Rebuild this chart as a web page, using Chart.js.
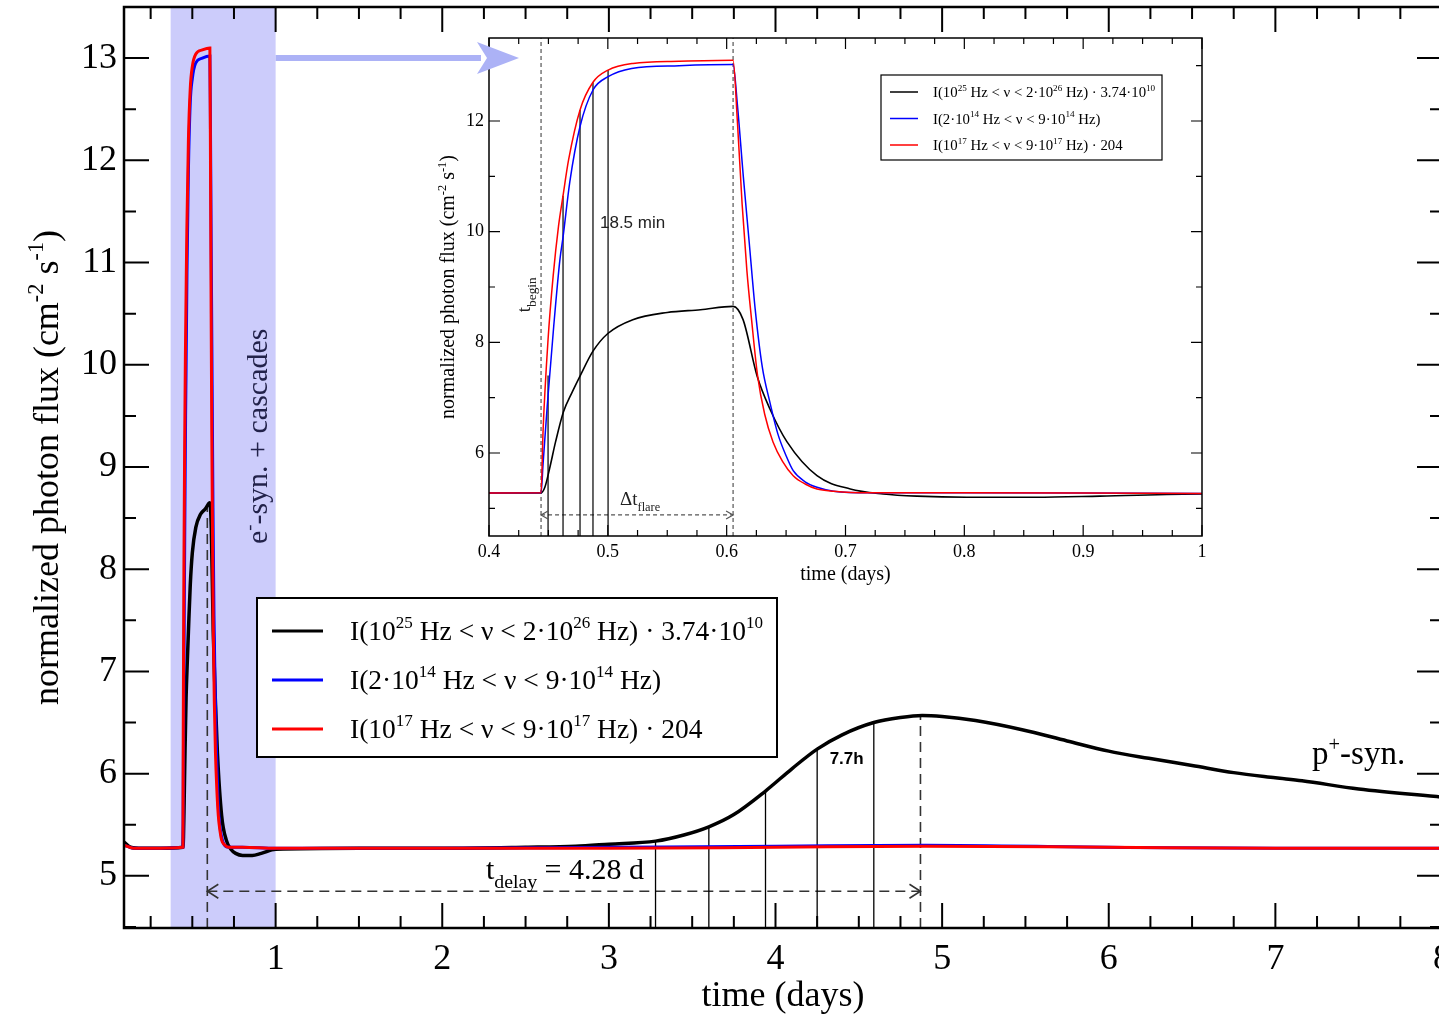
<!DOCTYPE html>
<html>
<head>
<meta charset="utf-8">
<title>flare light curves</title>
<script src="https://cdn.jsdelivr.net/npm/chart.js@4.4.1/dist/chart.umd.min.js"></script>
<style>
html, body { margin: 0; padding: 0; background: #fff; overflow: hidden; }
#page { position: relative; width: 1439px; height: 1015px; overflow: hidden; }
canvas { position: absolute; top: 0; }
#graphMain { left: 0; }
#graphInset { left: 260px; }
</style>
</head>
<body>
<div id="page">
  <canvas id="graphMain" width="1470" height="1015"></canvas>
  <canvas id="graphInset" width="970" height="600"></canvas>
</div>
<script>
// DATA  (time in days, normalized photon flux)

// black : I(10^25 Hz < nu < 2 10^26 Hz) * 3.74 10^10
const gammaT = [0.09, 0.13, 0.2, 0.3, 0.4438, 0.447, 0.451, 0.456, 0.4626, 0.47, 0.4766, 0.4875, 0.5, 0.521, 0.55, 0.578, 0.6054,
  0.6138, 0.6256, 0.6365, 0.6508, 0.676, 0.704, 0.7317, 0.76, 0.802, 0.86, 0.914, 1.0, 1.5, 2, 2.5, 2.8, 3.0, 3.28,
  3.45, 3.6, 3.75, 3.94, 4.1, 4.25, 4.4, 4.59, 4.75, 4.88, 5.0, 5.2, 5.48, 5.75, 6.0, 6.24, 6.5, 6.75, 7.0, 7.16, 7.5, 8.0]
const gammaF = [5.33, 5.28, 5.27, 5.27, 5.28, 5.38, 5.72, 6.2, 6.74, 7.1, 7.39, 7.84, 8.16, 8.41, 8.54, 8.59, 8.65,
  8.41, 7.39, 6.79, 6.2, 5.59, 5.35, 5.26, 5.22, 5.2, 5.2, 5.22, 5.26, 5.27, 5.27, 5.28, 5.29, 5.31, 5.34,
  5.4, 5.48, 5.6, 5.83, 6.05, 6.24, 6.38, 6.5, 6.55, 6.57, 6.56, 6.52, 6.43, 6.32, 6.22, 6.15, 6.08, 6.01, 5.96, 5.93, 5.85, 5.77]

// blue : I(2 10^14 Hz < nu < 9 10^14 Hz)
const optT = [0.09, 0.15, 0.25, 0.4438, 0.4455, 0.449, 0.4545, 0.4597, 0.4623, 0.468, 0.4766, 0.4875, 0.5002, 0.52, 0.56,
  0.6054, 0.609, 0.614, 0.619, 0.624, 0.63, 0.636, 0.643, 0.65, 0.656, 0.666, 0.676, 0.69, 0.72, 0.8, 1.0, 2, 3, 4, 4.9, 6, 7, 8]
const optF = [5.3, 5.27, 5.27, 5.28, 5.8, 6.85, 8.3, 9.5, 9.9, 10.9, 11.9, 12.56, 12.8, 12.95, 13.0,
  13.02, 12.3, 11.0, 9.8, 8.6, 7.55, 6.95, 6.35, 5.95, 5.68, 5.48, 5.38, 5.31, 5.28, 5.28, 5.27, 5.27, 5.28, 5.29, 5.3, 5.28, 5.27, 5.27]

// red : I(10^17 Hz < nu < 9 10^17 Hz) * 204
const xrayT = [0.09, 0.15, 0.25, 0.4438, 0.4455, 0.4497, 0.454, 0.4585, 0.4623, 0.467, 0.4766, 0.4875, 0.5002, 0.5212, 0.56,
  0.6054, 0.609, 0.613, 0.617, 0.621, 0.626, 0.632, 0.639, 0.647, 0.656, 0.666, 0.676, 0.69, 0.718, 0.8, 1.0, 2, 3, 4, 4.9, 6, 7, 8]
const xrayF = [5.3, 5.27, 5.27, 5.28, 6.4, 8.05, 9.2, 10.1, 10.65, 11.3, 12.2, 12.7, 12.92, 13.04, 13.08,
  13.1, 12.0, 10.5, 9.3, 8.4, 7.4, 6.7, 6.2, 5.85, 5.59, 5.44, 5.35, 5.31, 5.28, 5.28, 5.27, 5.27, 5.27, 5.28, 5.29, 5.28, 5.27, 5.27]

// guides of the big panel
const mainMarkT = [3.28, 3.6, 3.94, 4.25, 4.59]
const mainMarkF = [5.34, 5.48, 5.83, 6.24, 6.5]
const delayT = [0.59, 4.87]
const delayTop = [8.62, 6.57]
const delayLevel = 4.85
const bandT = [0.37, 1.0]

// guides of the inset
const insetMarkT = [0.4497, 0.4623, 0.4766, 0.4875, 0.5002]
const insetMarkF = [7.4, 10.65, 12.2, 12.7, 12.92]
const flareT = [0.4438, 0.6054]
const flareLevel = 4.88

// axes
const mainX = [0.09, 8], mainY = [4.49, 13.5]
const insetX = [0.4, 1], insetY = [4.5, 13.5]

// texts
const fluxTitle = [['normalized photon flux (cm', ''], ['-2', '^'], [' s', ''], ['-1', '^'], [')', '']]
const timeTitle = [['time (days)', '']]
const legendLabels = [
  [['I(10', ''], ['25', '^'], [' Hz < ν < 2·10', ''], ['26', '^'], [' Hz) · 3.74·10', ''], ['10', '^']],
  [['I(2·10', ''], ['14', '^'], [' Hz < ν < 9·10', ''], ['14', '^'], [' Hz)', '']],
  [['I(10', ''], ['17', '^'], [' Hz < ν < 9·10', ''], ['17', '^'], [' Hz) · 204', '']]
]
const seriesColors = ['#000000', '#0000ff', '#ff0000']

const SERIF = '"Liberation Serif", "Times New Roman", serif'
const SANS = '"Liberation Sans", Arial, sans-serif'
const insetOffset = 260

// HELPERS

function curve(t, f, color, width) {
  return { data: t.map((x, i) => ({ x, y: f[i] })), borderColor: color, borderWidth: width,
    pointRadius: 0, fill: false, cubicInterpolationMode: 'monotone' }
}

function sticks(t, top, base, color, width, dash) {
  const data = []
  t.forEach((x, i) => { data.push({ x, y: base }, { x, y: top[i] }, { x, y: null }) })
  return { data, borderColor: color, borderWidth: width, borderDash: dash, pointRadius: 0, fill: false, tension: 0, spanGaps: false }
}

function hline(t, level, color, width, dash) {
  return { data: [{ x: t[0], y: level }, { x: t[1], y: level }], borderColor: color, borderWidth: width,
    borderDash: dash, pointRadius: 0, fill: false, tension: 0 }
}

function richWidth(ctx, parts, size, fam, small, weight) {
  let w = 0
  for (const [s, k] of parts) {
    ctx.font = weight + (k ? size * small : size) + 'px ' + fam
    w += ctx.measureText(s).width
  }
  return w
}

// draws text with ^superscript / _subscript pieces
function rich(ctx, parts, x, y, size, o = {}) {
  const fam = o.fam || SERIF, small = o.small || 0.62, weight = o.weight ? o.weight + ' ' : ''
  if (o.align === 'center') x -= richWidth(ctx, parts, size, fam, small, weight) / 2
  ctx.textAlign = 'left'
  ctx.textBaseline = 'alphabetic'
  for (const [s, k] of parts) {
    const sz = k ? size * small : size
    ctx.font = weight + sz + 'px ' + fam
    const dy = k === '^' ? -size * 0.42 : k === '_' ? size * 0.3 : 0
    ctx.fillText(s, x, y + dy)
    x += ctx.measureText(s).width
  }
}

function chevron(ctx, x, y, dir, len, half) {
  ctx.beginPath()
  ctx.moveTo(x - dir * len, y - half)
  ctx.lineTo(x, y)
  ctx.lineTo(x - dir * len, y + half)
  ctx.stroke()
}

function noPad(s) {
  s.paddingTop = 0
  s.paddingBottom = 0
  s.paddingLeft = 0
  s.paddingRight = 0
}

// inward ticks on the four sides + frame
const frameTicks = {
  id: 'frameTicks',
  afterDatasetsDraw(chart, args, o) {
    const { ctx, chartArea: a } = chart
    const sx = chart.scales.x, sy = chart.scales.y
    const each = (scale, step, major, fn) => {
      const start = Math.ceil(scale.min / step - 1e-9)
      for (let i = start; i * step <= scale.max + 1e-9; i++) {
        const v = i * step, r = v / major
        fn(scale.getPixelForValue(v), Math.abs(r - Math.round(r)) < 1e-6 ? o.majorLen : o.minorLen)
      }
    }
    ctx.save()
    ctx.strokeStyle = '#000'
    ctx.lineWidth = o.tickWidth
    ctx.beginPath()
    each(sx, o.xMinor, o.xMajor, (p, len) => {
      ctx.moveTo(p, a.bottom); ctx.lineTo(p, a.bottom - len)
      ctx.moveTo(p, a.top); ctx.lineTo(p, a.top + len)
    })
    each(sy, o.yMinor, o.yMajor, (p, len) => {
      ctx.moveTo(a.left, p); ctx.lineTo(a.left + len, p)
      ctx.moveTo(a.right, p); ctx.lineTo(a.right - len, p)
    })
    ctx.stroke()
    ctx.lineWidth = o.frameWidth
    ctx.strokeRect(a.left, a.top, a.right - a.left, a.bottom - a.top)
    ctx.restore()
  }
}

// MAIN PANEL

const mainDecor = {
  id: 'mainDecor',
  beforeDatasetsDraw(chart) {
    const { ctx, chartArea: a, scales: { x } } = chart
    const x0 = x.getPixelForValue(bandT[0]), x1 = x.getPixelForValue(bandT[1])
    ctx.save()
    ctx.fillStyle = 'rgb(204,204,251)'
    ctx.fillRect(x0, a.top, x1 - x0, a.bottom - a.top)
    ctx.restore()
  },
  afterDraw(chart) {
    const { ctx, chartArea: a, scales: { x, y } } = chart
    ctx.save()
    ctx.strokeStyle = '#333'
    ctx.lineWidth = 1.6
    const yl = y.getPixelForValue(delayLevel)
    chevron(ctx, x.getPixelForValue(delayT[0]), yl, -1, 11, 7)
    chevron(ctx, x.getPixelForValue(delayT[1]), yl, 1, 11, 7)

    ctx.fillStyle = '#000'
    rich(ctx, [['t', ''], ['delay', '_'], [' = 4.28 d', '']], x.getPixelForValue(2.262), y.getPixelForValue(4.97), 30, { small: 0.66 })
    rich(ctx, [['7.7h', '']], x.getPixelForValue(4.325), y.getPixelForValue(6.09), 17, { fam: SANS, weight: 'bold' })
    rich(ctx, [['p', ''], ['+', '^'], ['-syn.', '']], x.getPixelForValue(7.22), y.getPixelForValue(6.09), 33)

    ctx.save()
    ctx.fillStyle = '#22224a'
    ctx.translate(x.getPixelForValue(0.95), y.getPixelForValue(9.3))
    ctx.rotate(-Math.PI / 2)
    rich(ctx, [['e', ''], ['-', '^'], ['-syn. + cascades', '']], 0, 0, 30, { align: 'center' })
    ctx.restore()

    // legend
    const lx = a.left + 133, ly = 598, lw = 520, lh = 159
    ctx.fillStyle = '#fff'
    ctx.fillRect(lx, ly, lw, lh)
    ctx.strokeStyle = '#000'
    ctx.lineWidth = 2
    ctx.strokeRect(lx, ly, lw, lh)
    legendLabels.forEach((parts, i) => {
      const yy = ly + 33 + i * 49
      ctx.strokeStyle = seriesColors[i]
      ctx.lineWidth = 3
      ctx.beginPath(); ctx.moveTo(lx + 15, yy); ctx.lineTo(lx + 66, yy); ctx.stroke()
      ctx.fillStyle = '#000'
      rich(ctx, parts, lx + 93, yy + 9, 27.5)
    })

    // axis titles
    rich(ctx, timeTitle, (a.left + a.right) / 2, 1006, 36, { align: 'center' })
    ctx.translate(58, (a.top + a.bottom) / 2)
    ctx.rotate(-Math.PI / 2)
    rich(ctx, fluxTitle, 0, 0, 36, { align: 'center' })
    ctx.restore()
  }
}

const mainChart = new Chart(document.getElementById('graphMain'), {
  type: 'line',
  data: {
    datasets: [
      curve(xrayT, xrayF, seriesColors[2], 3),
      curve(optT, optF, seriesColors[1], 3),
      curve(gammaT, gammaF, seriesColors[0], 3.5),
      sticks(mainMarkT, mainMarkF, mainY[0], '#000', 1.3, []),
      sticks(delayT, delayTop, mainY[0], '#333', 1.6, [10, 6]),
      hline(delayT, delayLevel, '#333', 1.6, [10, 6])
    ]
  },
  options: {
    responsive: false,
    animation: false,
    events: [],
    layout: { padding: { top: 7, right: 28, left: 0, bottom: 0 } },
    plugins: {
      legend: { display: false },
      tooltip: { enabled: false },
      frameTicks: { xMinor: 0.25, xMajor: 1, yMinor: 0.5, yMajor: 1, majorLen: 25, minorLen: 12, tickWidth: 2, frameWidth: 2.5 }
    },
    scales: {
      x: {
        type: 'linear', min: mainX[0], max: mainX[1],
        grid: { display: false, drawTicks: false }, border: { display: false },
        ticks: { stepSize: 1, includeBounds: false, autoSkip: false, maxRotation: 0, padding: 10, color: '#000',
          font: { family: SERIF, size: 36 }, callback: v => String(+v.toFixed(2)) },
        afterFit: s => { s.height = 87; noPad(s) }
      },
      y: {
        min: mainY[0], max: mainY[1],
        grid: { display: false, drawTicks: false }, border: { display: false },
        ticks: { stepSize: 1, includeBounds: false, padding: 7, color: '#000',
          font: { family: SERIF, size: 36 }, callback: v => String(+v.toFixed(2)) },
        afterFit: s => { s.width = 124; noPad(s) }
      }
    }
  },
  plugins: [frameTicks, mainDecor]
})

// INSET

const insetDecor = {
  id: 'insetDecor',
  beforeDraw(chart) {
    const { ctx, chartArea: a } = chart
    ctx.save()
    ctx.fillStyle = '#fff'
    ctx.fillRect(a.left, a.top, a.right - a.left, a.bottom - a.top)
    ctx.restore()
  },
  afterDraw(chart) {
    const { ctx, chartArea: a, scales: { x, y } } = chart
    ctx.save()
    ctx.strokeStyle = '#555'
    ctx.lineWidth = 1.2
    const yl = y.getPixelForValue(flareLevel)
    chevron(ctx, x.getPixelForValue(flareT[0]), yl, -1, 7, 4)
    chevron(ctx, x.getPixelForValue(flareT[1]), yl, 1, 7, 4)

    ctx.fillStyle = '#222'
    rich(ctx, [['18.5 min', '']], x.getPixelForValue(0.4934), y.getPixelForValue(10.07), 17, { fam: SANS })
    rich(ctx, [['Δt', ''], ['flare', '_']], x.getPixelForValue(0.5103), y.getPixelForValue(5.06), 19, { small: 0.65 })
    ctx.save()
    ctx.translate(x.getPixelForValue(0.4345), y.getPixelForValue(8.86))
    ctx.rotate(-Math.PI / 2)
    rich(ctx, [['t', ''], ['begin', '_']], 0, 0, 19, { align: 'center', small: 0.7 })
    ctx.restore()

    // legend
    const lx = a.left + 392, ly = a.top + 37, lw = 281, lh = 85
    ctx.fillStyle = '#fff'
    ctx.fillRect(lx, ly, lw, lh)
    ctx.strokeStyle = '#000'
    ctx.lineWidth = 1.2
    ctx.strokeRect(lx, ly, lw, lh)
    legendLabels.forEach((parts, i) => {
      const yy = ly + 17 + i * 26.5
      ctx.strokeStyle = seriesColors[i]
      ctx.lineWidth = 1.5
      ctx.beginPath(); ctx.moveTo(lx + 9, yy); ctx.lineTo(lx + 37, yy); ctx.stroke()
      ctx.fillStyle = '#000'
      rich(ctx, parts, lx + 52, yy + 5, 14.8)
    })

    // axis titles
    ctx.fillStyle = '#000'
    rich(ctx, timeTitle, (a.left + a.right) / 2, 580, 20, { align: 'center' })
    ctx.save()
    ctx.translate(a.left - 35, (a.top + a.bottom) / 2)
    ctx.rotate(-Math.PI / 2)
    rich(ctx, fluxTitle, 0, 0, 20, { align: 'center' })
    ctx.restore()

    // arrow from the shaded flare band of the big panel
    const xs = mainChart.scales.x.getPixelForValue(bandT[1]) - insetOffset
    const ys = mainChart.scales.y.getPixelForValue(13)
    ctx.strokeStyle = ctx.fillStyle = 'rgb(172,178,246)'
    ctx.lineWidth = 6
    ctx.beginPath(); ctx.moveTo(xs, ys); ctx.lineTo(a.left - 8, ys); ctx.stroke()
    ctx.beginPath()
    ctx.moveTo(a.left + 30, ys)
    ctx.lineTo(a.left - 12, ys - 16)
    ctx.lineTo(a.left - 2, ys)
    ctx.lineTo(a.left - 12, ys + 16)
    ctx.closePath()
    ctx.fill()
    ctx.restore()
  }
}

new Chart(document.getElementById('graphInset'), {
  type: 'line',
  data: {
    datasets: [
      curve(xrayT, xrayF, seriesColors[2], 1.5),
      curve(optT, optF, seriesColors[1], 1.5),
      curve(gammaT, gammaF, seriesColors[0], 1.6),
      sticks(insetMarkT, insetMarkF, insetY[0], '#000', 1.2, []),
      sticks(flareT, [insetY[1], insetY[1]], insetY[0], '#555', 1.2, [4, 3]),
      hline(flareT, flareLevel, '#555', 1.2, [4, 3])
    ]
  },
  options: {
    responsive: false,
    animation: false,
    events: [],
    layout: { padding: { top: 38, right: 28, left: 0, bottom: 0 } },
    plugins: {
      legend: { display: false },
      tooltip: { enabled: false },
      frameTicks: { xMinor: 0.025, xMajor: 0.1, yMinor: 1, yMajor: 2, majorLen: 11, minorLen: 6, tickWidth: 1.2, frameWidth: 1.5 }
    },
    scales: {
      x: {
        type: 'linear', min: insetX[0], max: insetX[1],
        grid: { display: false, drawTicks: false }, border: { display: false },
        ticks: { stepSize: 0.1, includeBounds: false, autoSkip: false, maxRotation: 0, padding: 5, color: '#000',
          font: { family: SERIF, size: 18 }, callback: v => String(+v.toFixed(2)) },
        afterFit: s => { s.height = 64; noPad(s) }
      },
      y: {
        min: insetY[0], max: insetY[1],
        grid: { display: false, drawTicks: false }, border: { display: false },
        ticks: { stepSize: 2, includeBounds: false, padding: 5, color: '#000',
          font: { family: SERIF, size: 18 }, callback: v => String(+v.toFixed(2)) },
        afterFit: s => { s.width = 229; noPad(s) }
      }
    }
  },
  plugins: [frameTicks, insetDecor]
})
</script>
</body>
</html>
